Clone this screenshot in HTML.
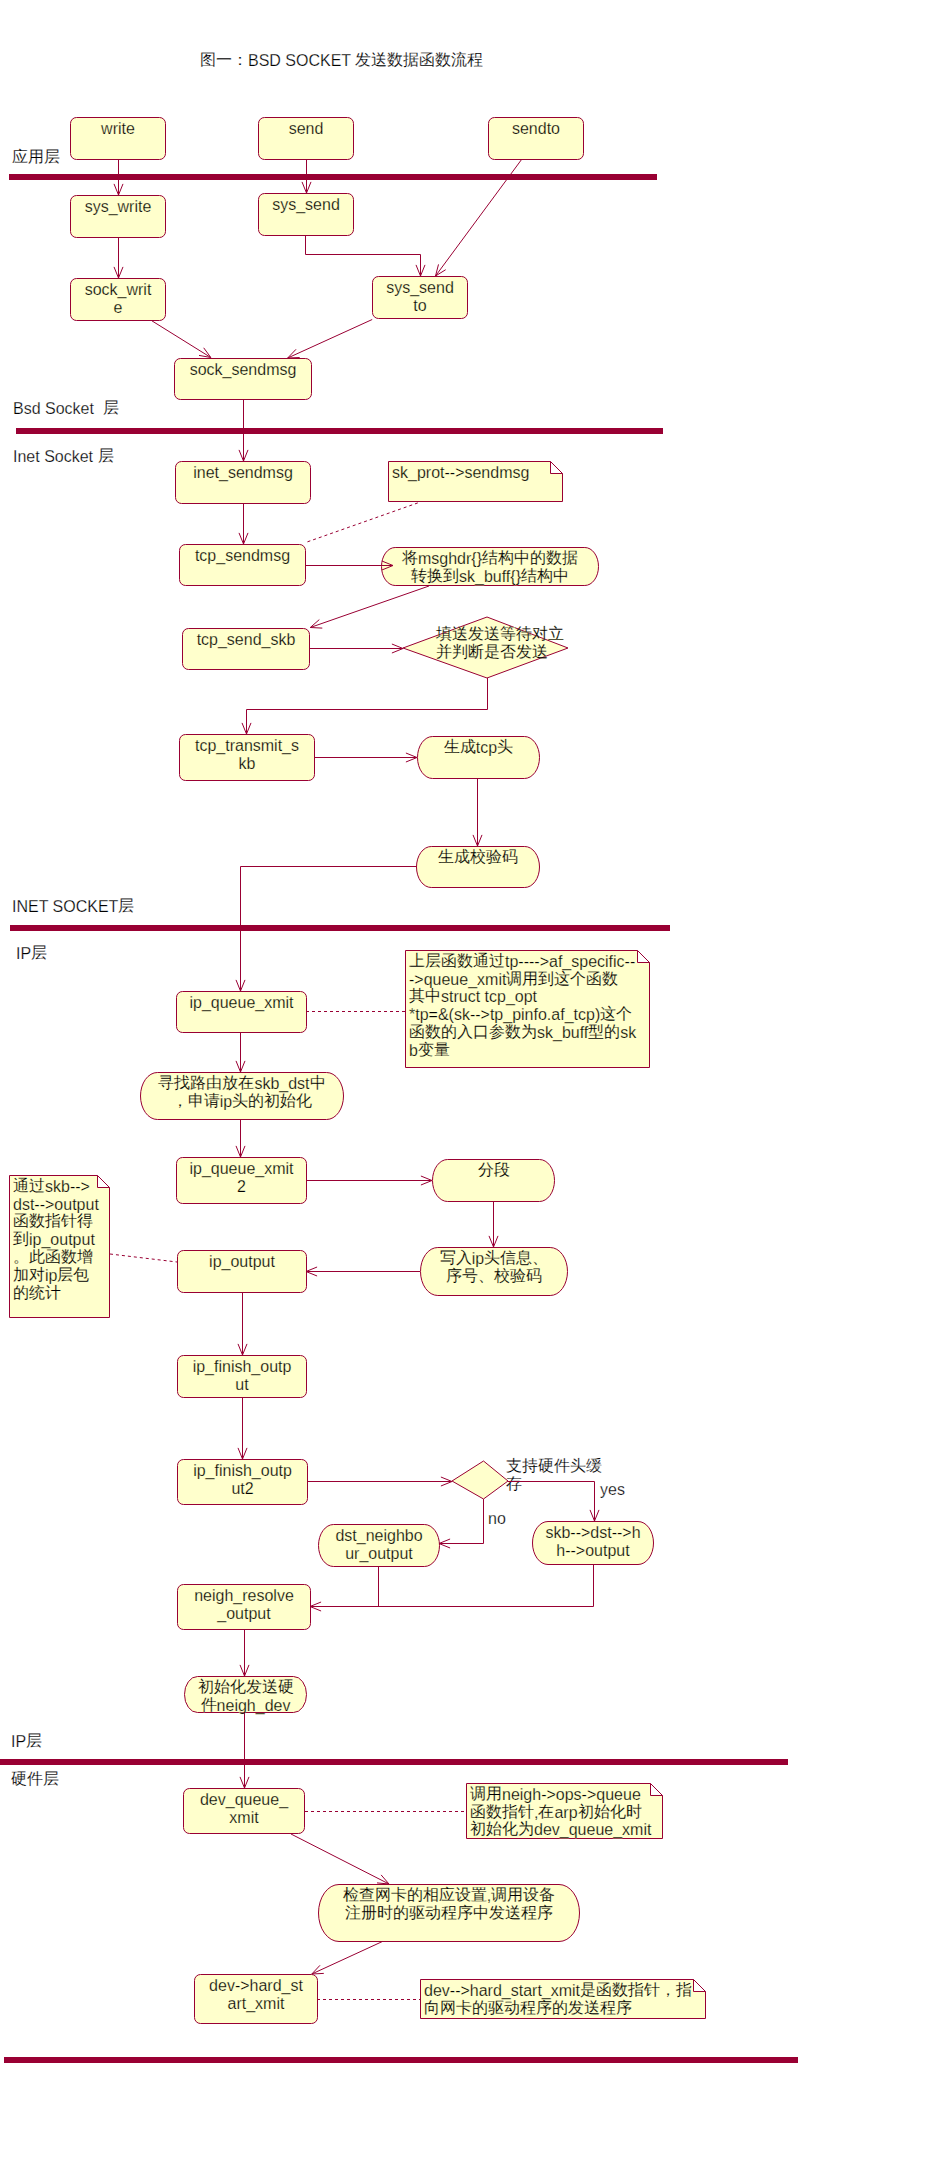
<!DOCTYPE html>
<html><head><meta charset="utf-8"><style>
html,body{margin:0;padding:0;background:#fff;}
svg{display:block;}
text{font-family:"Liberation Sans",sans-serif;font-size:16px;fill:#000;stroke:#fff;stroke-width:0.25px;paint-order:fill stroke;}
.y text, text.y{stroke:#FFFFCC;}
.c{stroke-width:0.15px;baseline-shift:1px;}
.b{fill:#FFFFCC;stroke:#990033;stroke-width:1;}
.l{fill:none;stroke:#990033;stroke-width:1;}
.d{fill:none;stroke:#990033;stroke-width:1;stroke-dasharray:3 3;}
</style></head><body>
<svg width="943" height="2174" viewBox="0 0 943 2174">
<text x="200" y="66"><tspan class="c">图一：</tspan>BSD SOCKET <tspan class="c">发送数据函数流程</tspan></text>
<text x="12" y="162.5"><tspan class="c">应用层</tspan></text>
<text x="13" y="414">Bsd Socket &#160;<tspan class="c">层</tspan></text>
<text x="13" y="462">Inet Socket <tspan class="c">层</tspan></text>
<text x="12" y="912">INET SOCKET<tspan class="c">层</tspan></text>
<text x="16" y="959">IP<tspan class="c">层</tspan></text>
<text x="11" y="1747">IP<tspan class="c">层</tspan></text>
<text x="11" y="1785"><tspan class="c">硬件层</tspan></text>
<rect x="9" y="174" width="648" height="6" fill="#990033"/>
<rect x="16" y="428" width="647" height="6" fill="#990033"/>
<rect x="10" y="925" width="660" height="6" fill="#990033"/>
<rect x="0" y="1759" width="788" height="6" fill="#990033"/>
<rect x="4" y="2057" width="794" height="6" fill="#990033"/>
<rect x="70.5" y="117.5" width="95" height="42" rx="6" ry="6" class="b"/>
<text class="y" x="118.0" y="133.5" text-anchor="middle">write</text>
<rect x="258.5" y="117.5" width="95" height="42" rx="6" ry="6" class="b"/>
<text class="y" x="306.0" y="133.5" text-anchor="middle">send</text>
<rect x="488.5" y="117.5" width="95" height="42" rx="6" ry="6" class="b"/>
<text class="y" x="536.0" y="133.5" text-anchor="middle">sendto</text>
<rect x="70.5" y="195.5" width="95" height="42" rx="6" ry="6" class="b"/>
<text class="y" x="118.0" y="211.5" text-anchor="middle">sys_write</text>
<rect x="258.5" y="193.5" width="95" height="42" rx="6" ry="6" class="b"/>
<text class="y" x="306.0" y="209.5" text-anchor="middle">sys_send</text>
<rect x="70.5" y="278.5" width="95" height="42" rx="6" ry="6" class="b"/>
<text class="y" x="118.0" y="294.5" text-anchor="middle">sock_writ</text>
<text class="y" x="118.0" y="312.8" text-anchor="middle">e</text>
<rect x="372.5" y="276.5" width="95" height="42" rx="6" ry="6" class="b"/>
<text class="y" x="420.0" y="292.5" text-anchor="middle">sys_send</text>
<text class="y" x="420.0" y="310.8" text-anchor="middle">to</text>
<rect x="174.5" y="358.5" width="137" height="41" rx="6" ry="6" class="b"/>
<text class="y" x="243.0" y="374.5" text-anchor="middle">sock_sendmsg</text>
<rect x="175.5" y="461.5" width="135" height="42" rx="6" ry="6" class="b"/>
<text class="y" x="243.0" y="477.5" text-anchor="middle">inet_sendmsg</text>
<rect x="179.5" y="544.5" width="126" height="41" rx="6" ry="6" class="b"/>
<text class="y" x="242.5" y="560.5" text-anchor="middle">tcp_sendmsg</text>
<rect x="182.5" y="628.5" width="127" height="41" rx="6" ry="6" class="b"/>
<text class="y" x="246.0" y="644.5" text-anchor="middle">tcp_send_skb</text>
<rect x="179.5" y="734.5" width="135" height="46" rx="6" ry="6" class="b"/>
<text class="y" x="247.0" y="750.5" text-anchor="middle">tcp_transmit_s</text>
<text class="y" x="247.0" y="768.8" text-anchor="middle">kb</text>
<rect x="176.5" y="991.5" width="130" height="41" rx="6" ry="6" class="b"/>
<text class="y" x="241.5" y="1007.5" text-anchor="middle">ip_queue_xmit</text>
<rect x="176.5" y="1157.5" width="130" height="46" rx="6" ry="6" class="b"/>
<text class="y" x="241.5" y="1173.5" text-anchor="middle">ip_queue_xmit</text>
<text class="y" x="241.5" y="1191.8" text-anchor="middle">2</text>
<rect x="177.5" y="1250.5" width="129" height="42" rx="6" ry="6" class="b"/>
<text class="y" x="242.0" y="1266.5" text-anchor="middle">ip_output</text>
<rect x="177.5" y="1355.5" width="129" height="42" rx="6" ry="6" class="b"/>
<text class="y" x="242.0" y="1371.5" text-anchor="middle">ip_finish_outp</text>
<text class="y" x="242.0" y="1389.8" text-anchor="middle">ut</text>
<rect x="177.5" y="1459.5" width="130" height="45" rx="6" ry="6" class="b"/>
<text class="y" x="242.5" y="1475.5" text-anchor="middle">ip_finish_outp</text>
<text class="y" x="242.5" y="1493.8" text-anchor="middle">ut2</text>
<rect x="177.5" y="1584.5" width="133" height="45" rx="6" ry="6" class="b"/>
<text class="y" x="244.0" y="1600.5" text-anchor="middle">neigh_resolve</text>
<text class="y" x="244.0" y="1618.8" text-anchor="middle">_output</text>
<rect x="183.5" y="1788.5" width="121" height="45" rx="6" ry="6" class="b"/>
<text class="y" x="244.0" y="1804.5" text-anchor="middle">dev_queue_</text>
<text class="y" x="244.0" y="1822.8" text-anchor="middle">xmit</text>
<rect x="194.5" y="1974.5" width="123" height="49" rx="6" ry="6" class="b"/>
<text class="y" x="256.0" y="1990.5" text-anchor="middle">dev-&gt;hard_st</text>
<text class="y" x="256.0" y="2008.8" text-anchor="middle">art_xmit</text>
<rect x="381.5" y="547.5" width="217" height="38" rx="13.7" ry="19.0" class="b"/>
<text class="y" x="490.0" y="563.5" text-anchor="middle"><tspan class="c">将</tspan>msghdr{}<tspan class="c">结构中的数据</tspan></text>
<text class="y" x="490.0" y="581.8" text-anchor="middle"><tspan class="c">转换到</tspan>sk_buff{}<tspan class="c">结构中</tspan></text>
<rect x="417.5" y="736.5" width="122" height="42" rx="15.1" ry="21.0" class="b"/>
<text class="y" x="478.5" y="752.5" text-anchor="middle"><tspan class="c">生成</tspan>tcp<tspan class="c">头</tspan></text>
<rect x="416.5" y="846.5" width="123" height="41" rx="14.8" ry="20.5" class="b"/>
<text class="y" x="478.0" y="862.5" text-anchor="middle"><tspan class="c">生成校验码</tspan></text>
<rect x="140.5" y="1072.5" width="203" height="47" rx="16.9" ry="23.5" class="b"/>
<text class="y" x="242.0" y="1088.5" text-anchor="middle"><tspan class="c">寻找路由放在</tspan>skb_dst<tspan class="c">中</tspan></text>
<text class="y" x="242.0" y="1106.8" text-anchor="middle"><tspan class="c">，申请</tspan>ip<tspan class="c">头的初始化</tspan></text>
<rect x="432.5" y="1159.5" width="122" height="42" rx="15.1" ry="21.0" class="b"/>
<text class="y" x="493.5" y="1175.5" text-anchor="middle"><tspan class="c">分段</tspan></text>
<rect x="420.5" y="1247.5" width="147" height="48" rx="17.3" ry="24.0" class="b"/>
<text class="y" x="494.0" y="1263.5" text-anchor="middle"><tspan class="c">写入</tspan>ip<tspan class="c">头信息、</tspan></text>
<text class="y" x="494.0" y="1281.8" text-anchor="middle"><tspan class="c">序号、校验码</tspan></text>
<rect x="318.5" y="1524.5" width="121" height="42" rx="15.1" ry="21.0" class="b"/>
<text class="y" x="379.0" y="1540.5" text-anchor="middle">dst_neighbo</text>
<text class="y" x="379.0" y="1558.8" text-anchor="middle">ur_output</text>
<rect x="532.5" y="1521.5" width="121" height="43" rx="15.5" ry="21.5" class="b"/>
<text class="y" x="593.0" y="1537.5" text-anchor="middle">skb--&gt;dst--&gt;h</text>
<text class="y" x="593.0" y="1555.8" text-anchor="middle">h--&gt;output</text>
<rect x="184.5" y="1676.5" width="122" height="36" rx="13.0" ry="18.0" class="b"/>
<text class="y" x="245.5" y="1692.5" text-anchor="middle"><tspan class="c">初始化发送硬</tspan></text>
<text class="y" x="245.5" y="1710.8" text-anchor="middle"><tspan class="c">件</tspan>neigh_dev</text>
<rect x="318.5" y="1884.5" width="261" height="57" rx="20.5" ry="28.5" class="b"/>
<text class="y" x="449.0" y="1900.5" text-anchor="middle"><tspan class="c">检查网卡的相应设置</tspan>,<tspan class="c">调用设备</tspan></text>
<text class="y" x="449.0" y="1918.8" text-anchor="middle"><tspan class="c">注册时的驱动程序中发送程序</tspan></text>
<path d="M403,648 L487,617 L568,648 L487,678 Z" class="b"/>
<text class="y" x="436" y="640"><tspan class="c">填送发送等待对立</tspan></text><text class="y" x="436" y="658"><tspan class="c">并判断是否发送</tspan></text>
<path d="M452,1481 L483.5,1461 L508,1481 L483.5,1499 Z" class="b"/>
<text x="506" y="1472"><tspan class="c">支持硬件头缓</tspan></text><text x="506" y="1490"><tspan class="c">存</tspan></text>
<text x="600" y="1495">yes</text>
<text x="488" y="1524">no</text>
<path d="M388.5,461.5 H550.5 L562.5,473.5 V501.5 H388.5 Z M550.5,461.5 V473.5 H562.5" class="b"/>
<text class="y" x="392" y="477.6">sk_prot--&gt;sendmsg</text>
<path d="M405.5,950.5 H637.5 L649.5,962.5 V1067.5 H405.5 Z M637.5,950.5 V962.5 H649.5" class="b"/>
<text class="y" x="409" y="966.6"><tspan class="c">上层函数通过</tspan>tp----&gt;af_specific--</text>
<text class="y" x="409" y="984.5">-&gt;queue_xmit<tspan class="c">调用到这个函数</tspan></text>
<text class="y" x="409" y="1002.4"><tspan class="c">其中</tspan>struct tcp_opt</text>
<text class="y" x="409" y="1020.3">*tp=&amp;(sk--&gt;tp_pinfo.af_tcp)<tspan class="c">这个</tspan></text>
<text class="y" x="409" y="1038.2"><tspan class="c">函数的入口参数为</tspan>sk_buff<tspan class="c">型的</tspan>sk</text>
<text class="y" x="409" y="1056.1">b<tspan class="c">变量</tspan></text>
<path d="M9.5,1175.5 H97.5 L109.5,1187.5 V1317.5 H9.5 Z M97.5,1175.5 V1187.5 H109.5" class="b"/>
<text class="y" x="13" y="1191.6"><tspan class="c">通过</tspan>skb--&gt;</text>
<text class="y" x="13" y="1209.5">dst--&gt;output</text>
<text class="y" x="13" y="1227.4"><tspan class="c">函数指针得</tspan></text>
<text class="y" x="13" y="1245.3"><tspan class="c">到</tspan>ip_output</text>
<text class="y" x="13" y="1263.2"><tspan class="c">。此函数增</tspan></text>
<text class="y" x="13" y="1281.1"><tspan class="c">加对</tspan>ip<tspan class="c">层包</tspan></text>
<text class="y" x="13" y="1299.0"><tspan class="c">的统计</tspan></text>
<path d="M466.5,1783.5 H650.5 L662.5,1795.5 V1838.5 H466.5 Z M650.5,1783.5 V1795.5 H662.5" class="b"/>
<text class="y" x="470" y="1799.6"><tspan class="c">调用</tspan>neigh-&gt;ops-&gt;queue</text>
<text class="y" x="470" y="1817.5"><tspan class="c">函数指针</tspan>,<tspan class="c">在</tspan>arp<tspan class="c">初始化时</tspan></text>
<text class="y" x="470" y="1835.4"><tspan class="c">初始化为</tspan>dev_queue_xmit</text>
<path d="M420.5,1979.5 H693.5 L705.5,1991.5 V2018.5 H420.5 Z M693.5,1979.5 V1991.5 H705.5" class="b"/>
<text class="y" x="424" y="1995.6">dev--&gt;hard_start_xmit<tspan class="c">是函数指针，指</tspan></text>
<text class="y" x="424" y="2013.5"><tspan class="c">向网卡的驱动程序的发送程序</tspan></text>
<path d="M118.5,159 L118.5,195" class="l"/>
<path d="M114.0,183.9 L118.5,195 L123.0,183.9" class="l"/>
<path d="M306.5,159 L306.5,193" class="l"/>
<path d="M302.0,181.9 L306.5,193 L311.0,181.9" class="l"/>
<path d="M521.5,159.6 L435.5,276" class="l"/>
<path d="M438.5,264.4 L435.5,276 L445.7,269.7" class="l"/>
<path d="M118.5,237 L118.5,278" class="l"/>
<path d="M114.0,266.9 L118.5,278 L123.0,266.9" class="l"/>
<path d="M305.5,235.5 L305.5,254.5 L420.5,254.5 L420.5,276" class="l"/>
<path d="M416.0,264.9 L420.5,276 L425.0,264.9" class="l"/>
<path d="M152,320.9 L210.8,357.5" class="l"/>
<path d="M199.0,355.4 L210.8,357.5 L203.7,347.8" class="l"/>
<path d="M372.2,319.5 L287.7,358" class="l"/>
<path d="M296.0,349.3 L287.7,358 L299.7,357.5" class="l"/>
<path d="M243.5,399 L243.5,461" class="l"/>
<path d="M239.0,449.9 L243.5,461 L248.0,449.9" class="l"/>
<path d="M243.5,503 L243.5,544" class="l"/>
<path d="M239.0,532.9 L243.5,544 L248.0,532.9" class="l"/>
<path d="M306,565.5 L393,565.5" class="l"/>
<path d="M381.9,570.0 L393,565.5 L381.9,561.0" class="l"/>
<path d="M417.8,502.9 L304.7,542.8" class="d"/>
<path d="M429,586 L310.3,627.5" class="l"/>
<path d="M319.3,619.6 L310.3,627.5 L322.3,628.1" class="l"/>
<path d="M309,648.5 L403,648.5" class="l"/>
<path d="M391.9,653.0 L403,648.5 L391.9,644.0" class="l"/>
<path d="M487.5,678 L487.5,709.5 L246.5,709.5 L246.5,734" class="l"/>
<path d="M242.0,722.9 L246.5,734 L251.0,722.9" class="l"/>
<path d="M315,757.5 L417,757.5" class="l"/>
<path d="M405.9,762.0 L417,757.5 L405.9,753.0" class="l"/>
<path d="M477.5,778 L477.5,846" class="l"/>
<path d="M473.0,834.9 L477.5,846 L482.0,834.9" class="l"/>
<path d="M416,866.5 L240.5,866.5 L240.5,991" class="l"/>
<path d="M236.0,979.9 L240.5,991 L245.0,979.9" class="l"/>
<path d="M306,1011.5 L405,1011.5" class="d"/>
<path d="M240.5,1032 L240.5,1072" class="l"/>
<path d="M236.0,1060.9 L240.5,1072 L245.0,1060.9" class="l"/>
<path d="M240.5,1119 L240.5,1157" class="l"/>
<path d="M236.0,1145.9 L240.5,1157 L245.0,1145.9" class="l"/>
<path d="M307,1180.5 L432,1180.5" class="l"/>
<path d="M420.9,1185.0 L432,1180.5 L420.9,1176.0" class="l"/>
<path d="M493.5,1201 L493.5,1247" class="l"/>
<path d="M489.0,1235.9 L493.5,1247 L498.0,1235.9" class="l"/>
<path d="M420,1271.5 L306,1271.5" class="l"/>
<path d="M317.1,1267.0 L306,1271.5 L317.1,1276.0" class="l"/>
<path d="M110,1254 L177,1262" class="d"/>
<path d="M242.5,1292 L242.5,1355" class="l"/>
<path d="M238.0,1343.9 L242.5,1355 L247.0,1343.9" class="l"/>
<path d="M242.5,1397 L242.5,1459" class="l"/>
<path d="M238.0,1447.9 L242.5,1459 L247.0,1447.9" class="l"/>
<path d="M308,1481.5 L452,1481.5" class="l"/>
<path d="M440.9,1486.0 L452,1481.5 L440.9,1477.0" class="l"/>
<path d="M508,1481.5 L594.5,1481.5 L594.5,1521" class="l"/>
<path d="M590.0,1509.9 L594.5,1521 L599.0,1509.9" class="l"/>
<path d="M483.5,1499 L483.5,1543.5 L439,1543.5" class="l"/>
<path d="M450.1,1539.0 L439,1543.5 L450.1,1548.0" class="l"/>
<path d="M378.5,1566 L378.5,1606.5" class="l"/>
<path d="M593.5,1564 L593.5,1606.5 L310,1606.5" class="l"/>
<path d="M321.1,1602.0 L310,1606.5 L321.1,1611.0" class="l"/>
<path d="M244.5,1630 L244.5,1676" class="l"/>
<path d="M240.0,1664.9 L244.5,1676 L249.0,1664.9" class="l"/>
<path d="M244.5,1713 L244.5,1788" class="l"/>
<path d="M240.0,1776.9 L244.5,1788 L249.0,1776.9" class="l"/>
<path d="M305,1811.5 L466,1811.5" class="d"/>
<path d="M291,1834 L389,1884" class="l"/>
<path d="M377.0,1882.9 L389,1884 L381.1,1874.9" class="l"/>
<path d="M382.4,1941.5 L311.8,1974" class="l"/>
<path d="M320.0,1965.3 L311.8,1974 L323.8,1973.4" class="l"/>
<path d="M317,1999.5 L420,1999.5" class="d"/>
</svg>
</body></html>
